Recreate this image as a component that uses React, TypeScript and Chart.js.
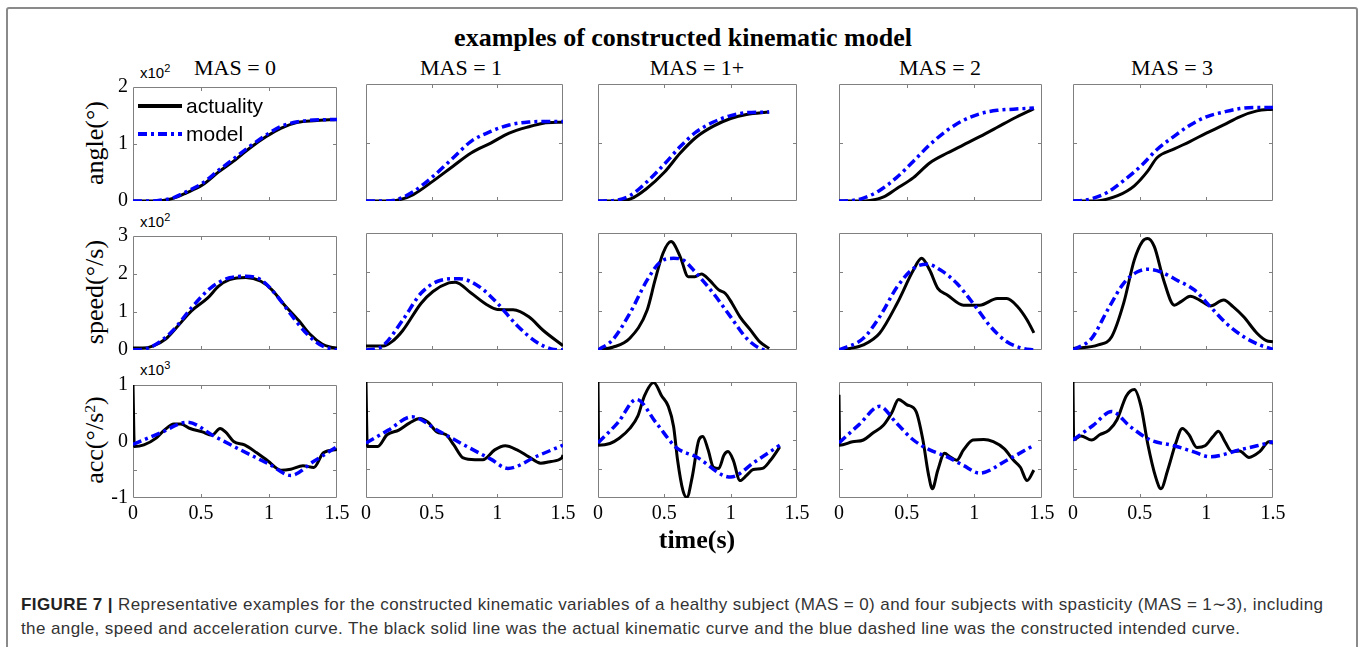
import React, { useEffect, useRef } from "react";
import { Chart, registerables } from "chart.js";

Chart.register(...registerables);

// ---------------- data (values in ×10² or ×10³ units, time in s) ----------------
const columnTitles = ["MAS = 0", "MAS = 1", "MAS = 1+", "MAS = 2", "MAS = 3"];
const seriesNames = ["actuality", "model"];

// MAS = 0
const angleT0 = [0, 0.15, 0.22, 0.3, 0.39, 0.51, 0.63, 0.74, 0.86, 0.98, 1.09, 1.21, 1.33, 1.5];
const angleAct0 = [0, 0, 0.01, 0.05, 0.14, 0.28, 0.51, 0.7, 0.93, 1.13, 1.28, 1.38, 1.41, 1.43];
const angleMod0 = [0, 0, 0.02, 0.06, 0.16, 0.31, 0.54, 0.74, 0.96, 1.16, 1.31, 1.39, 1.42, 1.43];
const speedActT0 = [0, 0.07, 0.15, 0.24, 0.32, 0.43, 0.55, 0.63, 0.71, 0.83, 0.94, 1.02, 1.11, 1.22, 1.3, 1.39, 1.45, 1.5];
const speedAct0 = [0.05, 0.05, 0.11, 0.29, 0.59, 1.03, 1.37, 1.68, 1.85, 1.91, 1.81, 1.59, 1.2, 0.77, 0.42, 0.16, 0.08, 0.05];
const speedModT0 = [0, 0.08, 0.15, 0.29, 0.43, 0.57, 0.71, 0.83, 0.94, 1.05, 1.16, 1.28, 1.39, 1.5];
const speedMod0 = [0, 0.02, 0.11, 0.5, 1.11, 1.63, 1.9, 1.94, 1.85, 1.46, 0.94, 0.42, 0.11, 0];
const accActT0 = [0, 0.01, 0.08, 0.17, 0.23, 0.3, 0.35, 0.42, 0.51, 0.58, 0.64, 0.68, 0.74, 0.82, 0.91, 0.99, 1.09, 1.16, 1.25, 1.33, 1.4, 1.5];
const accAct0 = [1.0, -0.09, -0.06, 0.06, 0.2, 0.31, 0.31, 0.23, 0.17, 0.11, 0.23, 0.17, 0, -0.06, -0.2, -0.34, -0.51, -0.49, -0.43, -0.46, -0.2, -0.14];
const accModT0 = [0, 0.2, 0.4, 0.6, 0.8, 1.0, 1.16, 1.33, 1.5];
const accMod0 = [-0.05, 0.15, 0.34, 0.09, -0.16, -0.4, -0.6, -0.35, -0.09];

// MAS = 1
const angleT1 = [0, 0.15, 0.23, 0.36, 0.51, 0.66, 0.8, 0.95, 1.09, 1.24, 1.35, 1.5];
const angleAct1 = [0, 0, 0.01, 0.11, 0.34, 0.59, 0.82, 0.99, 1.16, 1.27, 1.33, 1.35];
const angleMod1 = [0, 0, 0.02, 0.16, 0.42, 0.73, 1.02, 1.19, 1.3, 1.35, 1.36, 1.36];
const speedActT1 = [0, 0.13, 0.2, 0.28, 0.42, 0.51, 0.63, 0.68, 0.8, 0.92, 1.0, 1.12, 1.24, 1.35, 1.5];
const speedAct1 = [0.1, 0.1, 0.22, 0.5, 1.2, 1.5, 1.72, 1.74, 1.46, 1.16, 1.04, 1.03, 0.85, 0.5, 0.11];
const speedModT1 = [0, 0.06, 0.13, 0.28, 0.42, 0.57, 0.71, 0.86, 1.0, 1.15, 1.3, 1.41, 1.5];
const speedMod1 = [0, 0.02, 0.11, 0.77, 1.46, 1.79, 1.83, 1.63, 1.2, 0.63, 0.2, 0.03, 0];
const accActT1 = [0, 0.01, 0.09, 0.16, 0.25, 0.33, 0.41, 0.47, 0.54, 0.61, 0.67, 0.74, 0.83, 0.89, 0.98, 1.06, 1.15, 1.24, 1.33, 1.41, 1.49, 1.5];
const accAct1 = [1.0, -0.11, -0.11, 0.09, 0.17, 0.29, 0.37, 0.31, 0.14, 0.09, -0.09, -0.31, -0.34, -0.34, -0.17, -0.1, -0.17, -0.29, -0.4, -0.37, -0.31, -0.26];
const accModT1 = [0, 0.17, 0.35, 0.55, 0.75, 0.95, 1.08, 1.3, 1.5];
const accMod1 = [-0.05, 0.17, 0.4, 0.16, -0.09, -0.33, -0.49, -0.28, -0.09];

// MAS = 1+
const angleT2 = [0, 0.14, 0.25, 0.365, 0.5, 0.62, 0.74, 0.87, 1.0, 1.12, 1.29];
const angleAct2 = [0, 0, 0.04, 0.21, 0.49, 0.82, 1.09, 1.28, 1.41, 1.48, 1.52];
const angleModT2 = [0, 0.12, 0.24, 0.365, 0.5, 0.62, 0.74, 0.87, 1.0, 1.12, 1.29];
const angleMod2 = [0, 0.01, 0.09, 0.32, 0.63, 0.93, 1.18, 1.35, 1.46, 1.51, 1.52];
const speedActT2 = [0, 0.11, 0.24, 0.37, 0.43, 0.49, 0.55, 0.62, 0.68, 0.73, 0.78, 0.84, 0.91, 0.96, 1.01, 1.07, 1.15, 1.22, 1.29];
const speedAct2 = [0, 0.07, 0.3, 1.02, 1.79, 2.48, 2.78, 2.39, 1.88, 1.88, 1.95, 1.79, 1.54, 1.45, 1.2, 0.85, 0.51, 0.21, 0.04];
const speedModT2 = [0, 0.11, 0.24, 0.37, 0.47, 0.57, 0.64, 0.74, 0.87, 1.0, 1.12, 1.22, 1.27];
const speedMod2 = [0, 0.26, 0.94, 1.79, 2.26, 2.35, 2.31, 1.97, 1.45, 0.85, 0.3, 0.04, 0];
const accActT2 = [0, 0.005, 0.09, 0.16, 0.24, 0.3, 0.35, 0.42, 0.48, 0.53, 0.57, 0.6, 0.64, 0.67, 0.71, 0.76, 0.79, 0.83, 0.87, 0.91, 0.95, 0.98, 1.02, 1.07, 1.12, 1.17, 1.24, 1.3, 1.37];
const accAct2 = [1.0, -0.09, -0.06, 0.03, 0.2, 0.41, 0.76, 0.99, 0.76, 0.58, 0.23, -0.35, -0.87, -0.99, -0.64, 0, 0.06, -0.17, -0.47, -0.49, -0.26, -0.2, -0.35, -0.7, -0.61, -0.51, -0.49, -0.35, -0.12];
const accModT2 = [0, 0.15, 0.29, 0.44, 0.59, 0.74, 1.0, 1.18, 1.37];
const accMod2 = [-0.05, 0.3, 0.7, 0.29, -0.13, -0.29, -0.64, -0.38, -0.09];

// MAS = 2
const angleT3 = [0, 0.15, 0.23, 0.33, 0.425, 0.55, 0.67, 0.8, 0.92, 1.04, 1.17, 1.29, 1.44];
const angleAct3 = [0, 0, 0.01, 0.07, 0.21, 0.4, 0.65, 0.82, 0.96, 1.1, 1.26, 1.41, 1.58];
const angleModT3 = [0, 0.1, 0.18, 0.3, 0.425, 0.55, 0.67, 0.8, 0.92, 1.04, 1.17, 1.29, 1.44];
const angleMod3 = [0, 0.01, 0.05, 0.18, 0.4, 0.68, 0.96, 1.21, 1.38, 1.49, 1.55, 1.57, 1.59];
const speedActT3 = [0, 0.08, 0.18, 0.3, 0.43, 0.55, 0.61, 0.67, 0.73, 0.8, 0.92, 1.04, 1.17, 1.24, 1.32, 1.39, 1.44];
const speedAct3 = [0, 0.04, 0.13, 0.43, 1.2, 2.05, 2.35, 2.05, 1.58, 1.41, 1.15, 1.15, 1.32, 1.32, 1.11, 0.77, 0.44];
const speedModT3 = [0, 0.18, 0.3, 0.43, 0.55, 0.65, 0.75, 0.87, 0.99, 1.12, 1.24, 1.36, 1.44];
const speedMod3 = [0, 0.3, 0.85, 1.62, 2.09, 2.2, 2.05, 1.71, 1.2, 0.6, 0.21, 0.04, 0];
const accActT3 = [0, 0.005, 0.1, 0.18, 0.25, 0.33, 0.39, 0.44, 0.5, 0.57, 0.62, 0.66, 0.69, 0.73, 0.78, 0.82, 0.87, 0.92, 0.99, 1.07, 1.14, 1.22, 1.29, 1.34, 1.39, 1.44];
const accAct3 = [0.78, -0.09, -0.03, 0, 0.12, 0.26, 0.47, 0.7, 0.61, 0.49, 0, -0.58, -0.84, -0.52, -0.23, -0.29, -0.35, -0.17, 0, 0.01, -0.03, -0.15, -0.35, -0.47, -0.7, -0.52];
const accModT3 = [0, 0.15, 0.3, 0.425, 0.55, 0.67, 0.8, 0.92, 1.04, 1.24, 1.44];
const accMod3 = [-0.05, 0.27, 0.58, 0.29, 0, -0.17, -0.29, -0.44, -0.57, -0.35, -0.09];

// MAS = 3
const angleT4 = [0, 0.15, 0.21, 0.335, 0.46, 0.56, 0.63, 0.76, 0.88, 1.0, 1.13, 1.25, 1.38, 1.5];
const angleAct4 = [0, 0, 0.01, 0.09, 0.26, 0.51, 0.74, 0.89, 1.02, 1.16, 1.3, 1.44, 1.54, 1.57];
const angleModT4 = [0, 0.07, 0.14, 0.26, 0.38, 0.51, 0.63, 0.76, 0.88, 1.0, 1.13, 1.25, 1.38, 1.5];
const angleMod4 = [0, 0.01, 0.04, 0.15, 0.35, 0.6, 0.88, 1.11, 1.3, 1.44, 1.52, 1.58, 1.6, 1.6];
const speedActT4 = [0, 0.19, 0.29, 0.38, 0.46, 0.52, 0.56, 0.61, 0.68, 0.76, 0.81, 0.88, 0.95, 1.03, 1.13, 1.2, 1.28, 1.38, 1.45, 1.5];
const speedAct4 = [0.04, 0.13, 0.34, 1.2, 2.31, 2.78, 2.86, 2.65, 1.79, 1.15, 1.24, 1.38, 1.28, 1.13, 1.28, 1.11, 0.85, 0.43, 0.24, 0.21];
const speedModT4 = [0, 0.14, 0.26, 0.38, 0.48, 0.56, 0.66, 0.78, 0.91, 1.03, 1.15, 1.28, 1.4, 1.5];
const speedMod4 = [0, 0.3, 1.03, 1.71, 2.0, 2.07, 2.0, 1.79, 1.54, 1.11, 0.68, 0.34, 0.13, 0.02];
const accActT4 = [0, 0.005, 0.06, 0.14, 0.2, 0.27, 0.33, 0.4, 0.46, 0.51, 0.56, 0.62, 0.66, 0.71, 0.77, 0.82, 0.87, 0.93, 0.99, 1.05, 1.09, 1.14, 1.19, 1.25, 1.32, 1.4, 1.47, 1.5];
const accAct4 = [1.0, 0.01, 0.07, 0, 0.09, 0.17, 0.35, 0.76, 0.87, 0.58, -0.06, -0.64, -0.84, -0.52, -0.06, 0.2, 0.09, -0.13, -0.1, 0.06, 0.15, -0.03, -0.2, -0.19, -0.3, -0.2, -0.03, -0.06];
const accModT4 = [0, 0.15, 0.29, 0.43, 0.58, 0.76, 0.9, 1.03, 1.25, 1.38, 1.5];
const accMod4 = [0, 0.25, 0.49, 0.23, 0, -0.1, -0.2, -0.29, -0.17, -0.1, -0.03];

const captionLine1 = "Representative examples for the constructed kinematic variables of a healthy subject (MAS = 0) and four subjects with spasticity (MAS = 1\u223C3), including";
const captionLine2 = "the angle, speed and acceleration curve. The black solid line was the actual kinematic curve and the blue dashed line was the constructed intended curve.";

// ---------------- panel table built from the arrays ----------------
type Series = { t: number[]; v: number[] };
type PanelDef = { row: number; col: number; act: Series; mod: Series };

const S = (t: number[], v: number[]): Series => ({ t, v });

const panelDefs: PanelDef[] = [
  { row: 0, col: 0, act: S(angleT0, angleAct0), mod: S(angleT0, angleMod0) },
  { row: 0, col: 1, act: S(angleT1, angleAct1), mod: S(angleT1, angleMod1) },
  { row: 0, col: 2, act: S(angleT2, angleAct2), mod: S(angleModT2, angleMod2) },
  { row: 0, col: 3, act: S(angleT3, angleAct3), mod: S(angleModT3, angleMod3) },
  { row: 0, col: 4, act: S(angleT4, angleAct4), mod: S(angleModT4, angleMod4) },
  { row: 1, col: 0, act: S(speedActT0, speedAct0), mod: S(speedModT0, speedMod0) },
  { row: 1, col: 1, act: S(speedActT1, speedAct1), mod: S(speedModT1, speedMod1) },
  { row: 1, col: 2, act: S(speedActT2, speedAct2), mod: S(speedModT2, speedMod2) },
  { row: 1, col: 3, act: S(speedActT3, speedAct3), mod: S(speedModT3, speedMod3) },
  { row: 1, col: 4, act: S(speedActT4, speedAct4), mod: S(speedModT4, speedMod4) },
  { row: 2, col: 0, act: S(accActT0, accAct0), mod: S(accModT0, accMod0) },
  { row: 2, col: 1, act: S(accActT1, accAct1), mod: S(accModT1, accMod1) },
  { row: 2, col: 2, act: S(accActT2, accAct2), mod: S(accModT2, accMod2) },
  { row: 2, col: 3, act: S(accActT3, accAct3), mod: S(accModT3, accMod3) },
  { row: 2, col: 4, act: S(accActT4, accAct4), mod: S(accModT4, accMod4) },
];

const rowScales = [
  { min: 0, max: 2, inner: [1] },
  { min: 0, max: 3, inner: [1, 2] },
  { min: -1, max: 1, inner: [-0.5, 0, 0.5] },
];

// ---------------- layout ----------------
const SERIF = '"Liberation Serif", "Times New Roman", serif';
const SANS = '"Liberation Sans", Arial, Helvetica, sans-serif';

const COL_LEFT = [133, 366, 598, 839, 1073];
const COL_RIGHT = [337, 563, 797, 1042, 1273];
const ROW_TOP = [84, 233, 382];
const ROW_BOTTOM = [201, 350, 498];
const ML = 46;
const MR = 24;
const MT = 14;
const MB = 38;

const frameTicksPlugin = {
  id: "frameTicks",
  beforeDatasetsDraw(chart: any, _args: any, opts: any) {
    const { ctx, chartArea: a, scales } = chart;
    const xs = scales.x;
    const ys = scales.y;
    ctx.save();
    ctx.strokeStyle = "#808080";
    ctx.lineWidth = 1;
    ctx.beginPath();
    ctx.rect(a.left + 0.5, a.top + 0.5, a.right - a.left - 1, a.bottom - a.top - 1);
    const L = 4;
    for (const v of opts.xt || []) {
      const px = Math.round(xs.getPixelForValue(v)) + 0.5;
      ctx.moveTo(px, a.bottom);
      ctx.lineTo(px, a.bottom - L);
      ctx.moveTo(px, a.top);
      ctx.lineTo(px, a.top + L);
    }
    for (const v of opts.yt || []) {
      const py = Math.round(ys.getPixelForValue(v)) + 0.5;
      ctx.moveTo(a.left, py);
      ctx.lineTo(a.left + L, py);
      ctx.moveTo(a.right, py);
      ctx.lineTo(a.right - L, py);
    }
    ctx.stroke();
    ctx.restore();
  },
};

const innerLegendPlugin = {
  id: "innerLegend",
  afterDatasetsDraw(chart: any, _args: any, opts: any) {
    if (!opts.show) return;
    const { ctx, chartArea: a } = chart;
    const ds = chart.data.datasets;
    const items = [ds[1], ds[0]];
    items.forEach((d: any, i: number) => {
      const y = a.top + 19 + i * 28;
      ctx.save();
      ctx.strokeStyle = d.borderColor;
      ctx.lineWidth = 4;
      ctx.setLineDash(d.borderDash || []);
      ctx.beginPath();
      ctx.moveTo(a.left + 5, y);
      ctx.lineTo(a.left + 49, y);
      ctx.stroke();
      ctx.setLineDash([]);
      ctx.fillStyle = "#000";
      ctx.font = `21px ${SANS}`;
      ctx.textBaseline = "middle";
      ctx.textAlign = "left";
      ctx.fillText(d.label, a.left + 53, y + 1);
      ctx.restore();
    });
  },
};

function Panel({ def }: { def: PanelDef }) {
  const ref = useRef<HTMLCanvasElement | null>(null);
  const left = COL_LEFT[def.col];
  const top = ROW_TOP[def.row];
  const w = COL_RIGHT[def.col] - left;
  const h = ROW_BOTTOM[def.row] - top;
  const W = w + ML + MR;
  const H = h + MT + MB;
  const showY = def.col === 0;
  const showX = def.row === 2;

  useEffect(() => {
    if (!ref.current) return;
    const rs = rowScales[def.row];
    const pts = (s: Series) => s.t.map((t, i) => ({ x: t, y: s.v[i] }));
    const chart = new Chart(ref.current, {
      type: "line",
      data: {
        datasets: [
          {
            label: seriesNames[1],
            data: pts(def.mod),
            borderColor: "#0000ff",
            borderWidth: 3.5,
            borderDash: [9, 4, 3, 4],
            pointRadius: 0,
            fill: false,
            cubicInterpolationMode: "monotone",
            order: 0,
          },
          {
            label: seriesNames[0],
            data: pts(def.act),
            borderColor: "#000000",
            borderWidth: 3,
            pointRadius: 0,
            fill: false,
            cubicInterpolationMode: "monotone",
            order: 1,
          },
        ],
      },
      options: {
        animation: false,
        responsive: false,
        maintainAspectRatio: false,
        devicePixelRatio: 1,
        events: [],
        layout: {
          padding: { left: 0, right: MR, top: MT, bottom: 0 },
        },
        plugins: {
          legend: { display: false },
          tooltip: { enabled: false },
          frameTicks: { xt: [0.5, 1], yt: rs.inner },
          innerLegend: { show: def.row === 0 && def.col === 0 },
        } as any,
        scales: {
          x: {
            type: "linear",
            min: 0,
            max: 1.5,
            display: showX,
            grid: { display: false, drawTicks: false },
            border: { display: false },
            ticks: {
              stepSize: 0.5,
              autoSkip: false,
              maxRotation: 0,
              minRotation: 0,
              padding: 4,
              color: "#000",
              font: { family: SERIF, size: 20 },
              callback: (v: any) => String(v),
            },
            afterFit: (s: any) => {
              s.height = MB;
            },
          },
          y: {
            type: "linear",
            min: rs.min,
            max: rs.max,
            display: showY,
            grid: { display: false, drawTicks: false },
            border: { display: false },
            ticks: {
              stepSize: 1,
              autoSkip: false,
              padding: 5,
              color: "#000",
              font: { family: SERIF, size: 20 },
              callback: (v: any) => String(v),
            },
            afterFit: (s: any) => {
              s.width = ML;
            },
          },
        },
      },
      plugins: [frameTicksPlugin, innerLegendPlugin],
    } as any);
    return () => chart.destroy();
  }, []);

  return (
    <canvas
      ref={ref}
      width={W}
      height={H}
      style={{ position: "absolute", left: left - ML, top: top - MT, width: W, height: H }}
    />
  );
}

const abs = (extra: React.CSSProperties): React.CSSProperties => ({
  position: "absolute",
  whiteSpace: "nowrap",
  lineHeight: 1,
  ...extra,
});

const headerCenters = [235, 461, 697, 940, 1172];
const yTitleRows = [
  { text: <>angle(°)</>, cy: 143 },
  { text: <>speed(°/s)</>, cy: 292 },
  { text: <>acc(°/s<sup style={{ fontSize: "0.6em", verticalAlign: "0.5em", lineHeight: 0 }}>2</sup>)</>, cy: 440 },
];
const exponentLabels = [
  { base: "x10", sup: "2", top: 65 },
  { base: "x10", sup: "2", top: 214 },
  { base: "x10", sup: "3", top: 362 },
];

export default function App() {
  return (
    <div
      style={{
        position: "absolute",
        left: 0,
        top: 0,
        width: 1360,
        height: 647,
        overflow: "hidden",
        background: "#fff",
      }}
    >
      <div
        style={{
          position: "absolute",
          left: 6,
          top: 7,
          width: 1348,
          height: 660,
          border: "2px solid #8a8a8a",
          borderRadius: 3,
        }}
      />
      <div
        style={abs({
          left: 683,
          top: 38,
          transform: "translate(-50%, -50%)",
          fontFamily: SERIF,
          fontWeight: "bold",
          fontSize: 26,
        })}
      >
        examples of constructed kinematic model
      </div>
      {columnTitles.map((t, i) => (
        <div
          key={t}
          style={abs({
            left: headerCenters[i],
            top: 68,
            transform: "translate(-50%, -50%)",
            fontFamily: SERIF,
            fontSize: 22,
          })}
        >
          {t}
        </div>
      ))}
      {yTitleRows.map((r, i) => (
        <div
          key={i}
          style={abs({
            left: 95,
            top: r.cy,
            transform: "translate(-50%, -50%) rotate(-90deg)",
            fontFamily: SERIF,
            fontSize: 26,
          })}
        >
          {r.text}
        </div>
      ))}
      {exponentLabels.map((e, i) => (
        <div key={i} style={abs({ left: 140, top: e.top, fontFamily: SANS, fontSize: 15 })}>
          {e.base}
          <sup style={{ fontSize: 11, verticalAlign: "0.55em", lineHeight: 0 }}>{e.sup}</sup>
        </div>
      ))}
      {panelDefs.map((d) => (
        <Panel key={`${d.row}-${d.col}`} def={d} />
      ))}
      <div
        style={abs({
          left: 697,
          top: 540,
          transform: "translate(-50%, -50%)",
          fontFamily: SERIF,
          fontWeight: "bold",
          fontSize: 26,
        })}
      >
        time(s)
      </div>
      <div style={abs({ left: 21, top: 596, fontFamily: SANS, fontSize: 17, letterSpacing: 0.4, color: "#333" })}>
        <span style={{ fontWeight: "bold", color: "#222" }}>FIGURE 7 | </span>
        {captionLine1}
      </div>
      <div style={abs({ left: 21, top: 620, fontFamily: SANS, fontSize: 17, letterSpacing: 0.4, color: "#333" })}>
        {captionLine2}
      </div>
    </div>
  );
}
